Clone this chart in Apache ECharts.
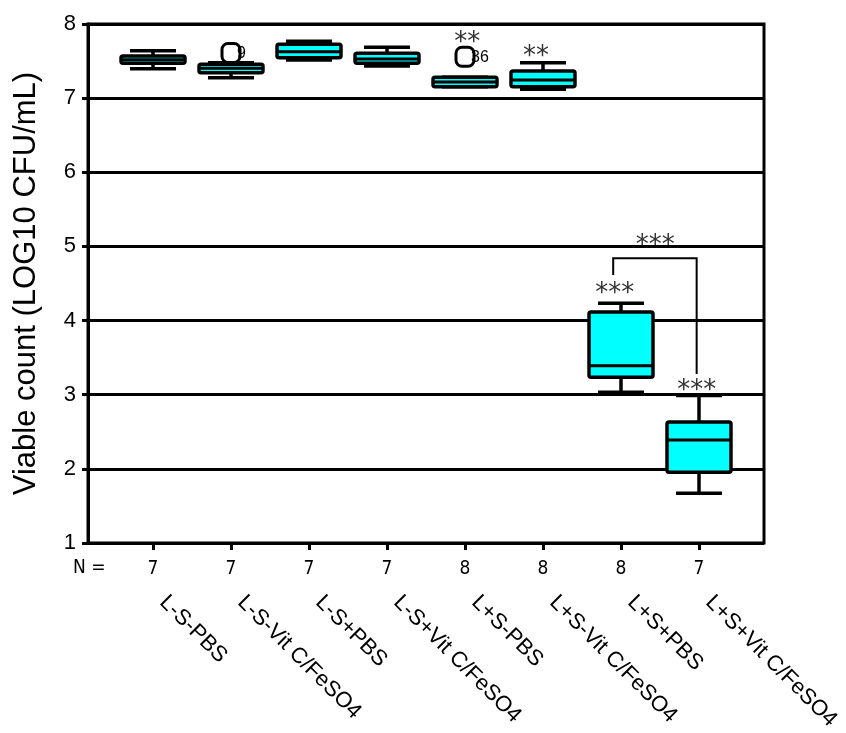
<!DOCTYPE html>
<html>
<head>
<meta charset="utf-8">
<script src="https://cdn.jsdelivr.net/npm/echarts@6/dist/echarts.min.js"></script>
<style>
html,body{margin:0;padding:0;background:#fff;}
#chart{width:846px;height:733px;}
</style>
</head>
<body>
<div id="chart"></div>
<script>
// ---- data ----
const categories = ['L-S-PBS','L-S-Vit C/FeSO4','L-S+PBS','L-S+Vit C/FeSO4','L+S-PBS','L+S-Vit C/FeSO4','L+S+PBS','L+S+Vit C/FeSO4'];
const nCounts = [7,7,7,7,8,8,8,7];
const whiskerLow  = [7.397, 7.276, 7.514, 7.434, 7.154, 7.119, 3.032, 1.670];
const q1Values    = [7.470, 7.343, 7.545, 7.470, 7.154, 7.154, 3.235, 1.953];
const medians     = [7.518, 7.402, 7.626, 7.528, 7.218, 7.245, 3.391, 2.389];
const q3Values    = [7.568, 7.456, 7.726, 7.605, 7.281, 7.366, 4.115, 2.632];
const whiskerHigh = [7.640, 7.478, 7.767, 7.686, 7.281, 7.478, 4.233, 2.990];
const outlierGroup = [2, 5];
const outlierValue = [7.609, 7.559];
const outlierCase  = ['9', '36'];
const starText  = ['**', '**', '***', '***', '***'];
const starGroup = [5.03, 5.91, 6.92, 7.97, 7.44];
const starValue = [7.815, 7.636, 4.439, 3.121, 5.087];
const bracketGroup = [6.9, 7.97];
const bracketValue = [4.615, 4.84, 3.279];

// ---- build ----
const boxData = categories.map((c, i) => [i + 1, whiskerLow[i], q1Values[i], medians[i], q3Values[i], whiskerHigh[i]]);
const outData = outlierGroup.map((g, i) => [g, outlierValue[i], outlierCase[i]]);
const starData = starText.map((t, i) => [starGroup[i], starValue[i], t]);
const bracketData = [[bracketGroup[0], bracketValue[0], bracketGroup[1], bracketValue[1], bracketValue[2]]];

const FONT = "'Liberation Sans', Arial, sans-serif";
const NARROW = "'Liberation Sans Narrow', 'DejaVu Sans Condensed', 'Liberation Sans', sans-serif";
const chart = echarts.init(document.getElementById('chart'), null, {renderer: 'canvas'});
const option = {
  animation: false,
  backgroundColor: '#fff',
  grid: [
    {show: true, borderColor: '#000', borderWidth: 3, backgroundColor: 'transparent', left: 88, right: 82, top: 24, bottom: 190},
    {left: 114, right: 108, top: 24, bottom: 190},
    {left: 124, right: 98, top: 24, bottom: 190}
  ],
  xAxis: [
    {type: 'value', gridIndex: 0, min: 1 - 65/78, max: 8 + 65/78, show: false},
    {type: 'category', gridIndex: 1, data: categories, position: 'bottom',
      axisLine: {show: false},
      axisTick: {show: true, alignWithLabel: true, length: 7, lineStyle: {color: '#000', width: 3}},
      axisLabel: {margin: 17, fontSize: 19, color: '#000', fontFamily: NARROW,
        formatter: (v, i) => String(nCounts[i])}},
    {type: 'category', gridIndex: 2, data: categories, position: 'bottom',
      axisLine: {show: false}, axisTick: {show: false},
      axisLabel: {margin: 58, rotate: -45, fontSize: 22, color: '#000', fontFamily: FONT, interval: 0}}
  ],
  yAxis: [
    {type: 'value', gridIndex: 0, min: 1, max: 8, interval: 1,
      name: 'Viable count (LOG10 CFU/mL)', nameLocation: 'middle', nameGap: 46,
      nameTextStyle: {fontSize: 31, color: '#000', fontFamily: FONT},
      axisLine: {show: true, lineStyle: {color: '#000', width: 3}},
      axisTick: {show: true, length: 6, lineStyle: {color: '#000', width: 3}},
      axisLabel: {fontSize: 22, color: '#000', fontFamily: FONT, margin: 12},
      splitLine: {show: true, lineStyle: {color: '#000', width: 3}}},
    {type: 'value', gridIndex: 1, min: 1, max: 8, show: false},
    {type: 'value', gridIndex: 2, min: 1, max: 8, show: false}
  ],
  graphic: [
    {type: 'text', left: 73, top: 559, style: {text: 'N =', font: '19px ' + NARROW, fill: '#000'}}
  ],
  series: [
    {
      type: 'custom', xAxisIndex: 0, yAxisIndex: 0, data: boxData, z: 5,
      renderItem: function (params, api) {
        const x = api.value(0);
        const lo = api.coord([x, api.value(1)]);
        const q1 = api.coord([x, api.value(2)]);
        const md = api.coord([x, api.value(3)]);
        const q3 = api.coord([x, api.value(4)]);
        const hi = api.coord([x, api.value(5)]);
        const band = api.size([1, 0])[0];
        const bw = band * 0.82, cw = band * 0.59;
        const cx = lo[0];
        const ls = {stroke: '#000', lineWidth: 3.5};
        return {type: 'group', children: [
          {type: 'line', shape: {x1: cx, y1: hi[1], x2: cx, y2: q3[1]}, style: ls},
          {type: 'line', shape: {x1: cx, y1: q1[1], x2: cx, y2: lo[1]}, style: ls},
          {type: 'line', shape: {x1: cx - cw/2, y1: hi[1], x2: cx + cw/2, y2: hi[1]}, style: ls},
          {type: 'line', shape: {x1: cx - cw/2, y1: lo[1], x2: cx + cw/2, y2: lo[1]}, style: ls},
          {type: 'rect', shape: {x: cx - bw/2, y: q3[1], width: bw, height: q1[1] - q3[1], r: 2},
            style: {fill: '#00ffff', stroke: '#000', lineWidth: 3.5}},
          {type: 'line', shape: {x1: cx - bw/2, y1: md[1], x2: cx + bw/2, y2: md[1]}, style: {stroke: '#000', lineWidth: 3}}
        ]};
      }
    },
    {
      type: 'custom', xAxisIndex: 0, yAxisIndex: 0, data: outData, z: 6,
      renderItem: function (params, api) {
        const p = api.coord([api.value(0), api.value(1)]);
        return {type: 'group', children: [
          {type: 'text', style: {x: p[0] + 6, y: p[1] + 1, text: api.value(2), font: '16px ' + FONT, fill: '#000', verticalAlign: 'middle', align: 'left'}},
          {type: 'rect', shape: {x: p[0] - 9, y: p[1] - 9.5, width: 18, height: 19, r: 6},
            style: {fill: 'rgba(255,255,255,0)', stroke: '#000', lineWidth: 3}}
        ]};
      }
    },
    {
      type: 'custom', xAxisIndex: 0, yAxisIndex: 0, data: starData, z: 7,
      renderItem: function (params, api) {
        const p = api.coord([api.value(0), api.value(1)]);
        return {type: 'text', style: {x: p[0], y: p[1] + 6, text: api.value(2), font: "26px 'DejaVu Sans', sans-serif", fill: '#333', align: 'center', verticalAlign: 'middle'}};
      }
    },
    {
      type: 'custom', xAxisIndex: 0, yAxisIndex: 0, data: bracketData, z: 7,
      renderItem: function (params, api) {
        const a = api.coord([api.value(0), api.value(1)]);
        const t = api.coord([api.value(0), api.value(3)]);
        const b = api.coord([api.value(2), api.value(3)]);
        const c = api.coord([api.value(2), api.value(4)]);
        return {type: 'polyline', shape: {points: [a, t, b, c]}, style: {stroke: '#000', lineWidth: 2, fill: null}};
      }
    }
  ]
};
chart.setOption(option);
</script>
</body>
</html>
